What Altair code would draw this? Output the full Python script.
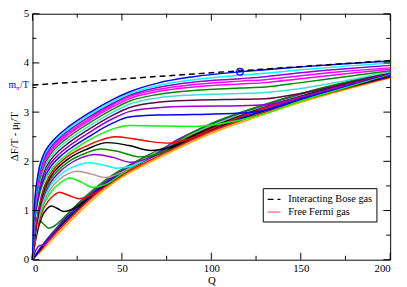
import altair as alt
import pandas as pd

# ---------------- data ----------------
# lower bundle of (almost free-fermion-like) curves
QB = [0, 5, 10, 20, 30, 40, 50, 60, 70, 80, 100, 125, 150, 175, 200]
Y_ORANGE = [0, 0.18, 0.37, 0.74, 1.10, 1.42, 1.68, 1.88, 2.06, 2.24, 2.57, 2.90, 3.20, 3.46, 3.70]
Y_RED_B = [0, 0.21, 0.42, 0.80, 1.16, 1.47, 1.72, 1.92, 2.10, 2.28, 2.61, 2.94, 3.23, 3.48, 3.71]
Y_BLACK_B = [0, 0.24, 0.46, 0.85, 1.20, 1.51, 1.76, 1.96, 2.14, 2.31, 2.64, 2.97, 3.25, 3.50, 3.73]
Y_BLUE_B = [0, 0.27, 0.50, 0.89, 1.24, 1.54, 1.79, 2.00, 2.17, 2.34, 2.67, 2.99, 3.27, 3.52, 3.74]

Q_VIOLET_L = [0, 2, 4, 6, 8, 11, 20, 30, 40, 50, 60, 70, 80, 100, 125, 150, 175, 200]
Y_VIOLET_L = [0, 0.20, 0.29, 0.30, 0.37, 0.52, 0.93, 1.27, 1.57, 1.82, 2.02, 2.20, 2.37, 2.70, 3.02, 3.29, 3.54, 3.75]

Q_GREEN4_L = [0, 2, 4, 6, 9, 12, 16, 20, 30, 40, 50, 60, 70, 80, 100, 125, 150, 175, 200]
Y_GREEN4_L = [0, 0.55, 0.79, 0.73, 0.64, 0.68, 0.80, 0.95, 1.30, 1.60, 1.84, 2.04, 2.22, 2.38, 2.71, 3.04, 3.31, 3.55, 3.76]

# curves with a wiggle
Q_BLACK_1 = [0, 2, 5, 8, 10.5, 14, 17.5, 22, 28, 35, 45, 60, 80, 100, 125, 150, 175, 200]
Y_BLACK_1 = [0, 0.45, 0.85, 1.03, 1.09, 1.04, 0.98, 1.02, 1.16, 1.36, 1.62, 1.98, 2.39, 2.72, 3.05, 3.32, 3.56, 3.77]

Q_RED_1 = [0, 2, 5, 9, 12, 15, 20, 26, 32, 40, 50, 60, 80, 100, 125, 150, 175, 200]
Y_RED_1 = [0, 0.52, 0.94, 1.20, 1.31, 1.37, 1.31, 1.24, 1.30, 1.47, 1.72, 1.98, 2.38, 2.72, 3.05, 3.33, 3.56, 3.77]

Q_GREEN_1 = [0, 2, 5, 10, 15, 21, 27, 34, 40, 50, 60, 80, 100, 125, 150, 175, 200]
Y_GREEN_1 = [0, 0.57, 1.00, 1.36, 1.55, 1.66, 1.58, 1.47, 1.52, 1.75, 1.99, 2.39, 2.73, 3.06, 3.34, 3.57, 3.78]

Q_BROWN_1 = [0, 2, 5, 10, 15, 20, 25, 33, 41, 50, 60, 80, 100, 125, 150, 175, 200]
Y_BROWN_1 = [0, 0.60, 1.05, 1.43, 1.63, 1.75, 1.80, 1.74, 1.67, 1.78, 2.00, 2.40, 2.74, 3.07, 3.35, 3.58, 3.78]

Q_CYAN_1 = [0, 2, 5, 10, 15, 20, 25, 31, 40, 47, 56, 65, 80, 100, 125, 150, 175, 200]
Y_CYAN_1 = [0, 0.62, 1.10, 1.50, 1.71, 1.84, 1.92, 1.97, 1.92, 1.86, 1.91, 2.07, 2.41, 2.75, 3.08, 3.36, 3.59, 3.79]

Q_VIOLET_1 = [0, 2, 5, 10, 15, 20, 27, 35, 45, 55, 65, 80, 100, 125, 150, 175, 200]
Y_VIOLET_1 = [0, 0.64, 1.15, 1.56, 1.78, 1.93, 2.07, 2.14, 2.08, 1.98, 2.07, 2.42, 2.76, 3.09, 3.37, 3.60, 3.79]

Q_GREEN4_2 = [0, 2, 5, 10, 15, 20, 30, 38, 48, 60, 72, 85, 100, 125, 150, 175, 200]
Y_GREEN4_2 = [0, 0.66, 1.20, 1.62, 1.84, 1.99, 2.17, 2.25, 2.20, 2.09, 2.18, 2.50, 2.77, 3.10, 3.38, 3.61, 3.80]

Q_BLACK_2 = [0, 2, 5, 10, 15, 20, 30, 42, 54, 66, 78, 90, 100, 125, 150, 175, 200]
Y_BLACK_2 = [0, 0.68, 1.25, 1.68, 1.90, 2.05, 2.24, 2.38, 2.32, 2.22, 2.30, 2.52, 2.68, 3.04, 3.32, 3.56, 3.77]

Q_RED_2 = [0, 2, 5, 10, 15, 20, 30, 38, 46, 56, 66, 76, 88, 100, 125, 150, 175, 200]
Y_RED_2 = [0, 0.70, 1.30, 1.74, 1.96, 2.11, 2.31, 2.43, 2.50, 2.46, 2.40, 2.37, 2.46, 2.66, 3.03, 3.31, 3.55, 3.77]

# upper curves
QU = [0, 1, 3, 6, 10, 15, 20, 31, 45, 54, 70, 90, 116, 130, 150, 175, 200]
Y_GREEN_2 = [0, 0.64, 1.16, 1.54, 1.81, 2.01, 2.16, 2.42, 2.66, 2.73, 2.72, 2.71, 2.84, 2.97, 3.23, 3.50, 3.78]
Y_BLUE_2 = [0, 0.68, 1.22, 1.61, 1.88, 2.08, 2.23, 2.49, 2.78, 2.90, 2.94, 2.95, 2.98, 3.04, 3.27, 3.53, 3.79]
Y_VIOLET_2 = [0, 0.72, 1.28, 1.68, 1.95, 2.15, 2.30, 2.57, 2.87, 3.01, 3.09, 3.12, 3.13, 3.15, 3.31, 3.55, 3.80]
Y_MAROON = [0, 0.76, 1.34, 1.75, 2.02, 2.22, 2.37, 2.64, 2.94, 3.09, 3.20, 3.24, 3.26, 3.27, 3.38, 3.58, 3.81]
Y_TURQUOISE = [0, 0.80, 1.40, 1.81, 2.08, 2.28, 2.43, 2.70, 3.00, 3.16, 3.29, 3.35, 3.38, 3.40, 3.48, 3.64, 3.82]
Y_GREEN4_U = [0, 0.84, 1.46, 1.87, 2.14, 2.34, 2.49, 2.76, 3.06, 3.22, 3.36, 3.44, 3.49, 3.51, 3.60, 3.72, 3.84]
Y_MAGENTA_2 = [0, 0.88, 1.51, 1.92, 2.19, 2.39, 2.54, 2.81, 3.11, 3.27, 3.42, 3.51, 3.57, 3.60, 3.68, 3.78, 3.87]
Y_MAGENTA_1 = [0, 0.92, 1.56, 1.97, 2.24, 2.43, 2.58, 2.85, 3.15, 3.31, 3.46, 3.56, 3.63, 3.66, 3.74, 3.83, 3.90]
Y_VIOLET_U = [0, 0.96, 1.61, 2.02, 2.28, 2.47, 2.62, 2.89, 3.18, 3.34, 3.50, 3.61, 3.68, 3.72, 3.80, 3.88, 3.95]
Y_CYAN_U = [0, 1.00, 1.66, 2.07, 2.32, 2.51, 2.66, 2.93, 3.22, 3.37, 3.54, 3.66, 3.75, 3.79, 3.86, 3.935, 4.00]
Y_BLUE_U = [0, 1.05, 1.72, 2.12, 2.36, 2.55, 2.70, 2.97, 3.26, 3.41, 3.59, 3.72, 3.82, 3.86, 3.92, 3.985, 4.04]

# interacting Bose gas (dashed) and the marked point
Q_BOSE = [0, 200]
Y_BOSE = [3.55, 4.05]
Q_POINT = [116]
Y_POINT = [3.82]

LEGEND_LABELS = ["Interacting Bose gas", "Free Fermi gas"]
X_MAJOR = [0, 50, 100, 150, 200]
X_MINOR = [25, 75, 125, 175]
Y_MAJOR = [0, 1, 2, 3, 4, 5]
Y_MINOR = [0.5, 1.5, 2.5, 3.5, 4.5]

# ---------------- build table ----------------
CURVES = [
    ("#ffa500", QB, Y_ORANGE), ("#ff0000", QB, Y_RED_B), ("#000000", QB, Y_BLACK_B),
    ("#0000ff", QB, Y_BLUE_B), ("#9400d3", Q_VIOLET_L, Y_VIOLET_L), ("#008b00", Q_GREEN4_L, Y_GREEN4_L),
    ("#000000", Q_BLACK_1, Y_BLACK_1), ("#ff0000", Q_RED_1, Y_RED_1), ("#00ff00", Q_GREEN_1, Y_GREEN_1),
    ("#bc8f8f", Q_BROWN_1, Y_BROWN_1), ("#00ffff", Q_CYAN_1, Y_CYAN_1), ("#9400d3", Q_VIOLET_1, Y_VIOLET_1),
    ("#008b00", Q_GREEN4_2, Y_GREEN4_2), ("#000000", Q_BLACK_2, Y_BLACK_2), ("#ff0000", Q_RED_2, Y_RED_2),
    ("#00ff00", QU, Y_GREEN_2), ("#0000ff", QU, Y_BLUE_2), ("#9400d3", QU, Y_VIOLET_2),
    ("#670748", QU, Y_MAROON), ("#40e0d0", QU, Y_TURQUOISE), ("#008b00", QU, Y_GREEN4_U),
    ("#ff00ff", QU, Y_MAGENTA_2), ("#ff00ff", QU, Y_MAGENTA_1), ("#9400d3", QU, Y_VIOLET_U),
    ("#00ffff", QU, Y_CYAN_U), ("#0000ff", QU, Y_BLUE_U),
]
rows = []
for i, (col, qs, ys) in enumerate(CURVES):
    for q, y in zip(qs, ys):
        rows.append({"cid": f"c{i:02d}", "col": col, "Q": q, "Y": y})
df = pd.DataFrame(rows)

W, H = 365, 251
FONT = "Liberation Serif, Times New Roman, Times, serif"
xs = alt.Scale(domain=[0, 200], nice=False, zero=False)
ys = alt.Scale(domain=[0, 5], nice=False, zero=False)

curves = alt.Chart(df).mark_line(strokeWidth=1.5, interpolate="monotone").encode(
    x=alt.X("Q:Q", scale=xs, axis=alt.Axis(values=X_MAJOR, title="Q", ticks=False, domain=False,
                                           grid=False, labelPadding=3, titlePadding=1, format="d")),
    y=alt.Y("Y:Q", scale=ys, axis=alt.Axis(values=Y_MAJOR, title=None, ticks=False, domain=False,
                                           grid=False, labelPadding=4, format="d")),
    color=alt.Color("col:N", scale=None),
    detail="cid:N",
)

bose_df = pd.DataFrame({"Q": Q_BOSE, "Y": Y_BOSE, "series": [LEGEND_LABELS[0]] * 2})
leg = alt.Legend(title=None, orient="none", legendX=235, legendY=178, strokeColor="black",
                 fillColor="white", padding=4, rowPadding=0, symbolType="stroke", symbolSize=170,
                 symbolStrokeWidth=1.3, labelFont=FONT, labelFontSize=10.5, labelOffset=7,
                 cornerRadius=0)
bose = alt.Chart(bose_df).mark_line(strokeWidth=1.5).encode(
    x=alt.X("Q:Q", scale=xs), y=alt.Y("Y:Q", scale=ys),
    color=alt.Color("series:N", scale=alt.Scale(domain=LEGEND_LABELS, range=["#000000", "#ff6a6a"]), legend=leg),
    strokeDash=alt.StrokeDash("series:N", scale=alt.Scale(domain=LEGEND_LABELS, range=[[6, 4], [1, 0]]), legend=leg),
)

pt = alt.Chart(pd.DataFrame({"Q": Q_POINT, "Y": Y_POINT})).mark_point(
    shape="circle", size=45, filled=False, color="#0000ff", strokeWidth=1.3, opacity=1).encode(
    x=alt.X("Q:Q", scale=xs), y=alt.Y("Y:Q", scale=ys))

def xticks(vals, length, top):
    d = pd.DataFrame({"Q": vals})
    y0, y1 = (0, length) if top else (H, H - length)
    return alt.Chart(d).mark_rule(color="black", strokeWidth=1).encode(
        x=alt.X("Q:Q", scale=xs), y=alt.value(y0), y2=alt.value(y1))

def yticks(vals, length, right):
    d = pd.DataFrame({"Y": vals})
    x0, x1 = (W, W - length) if right else (0, length)
    return alt.Chart(d).mark_rule(color="black", strokeWidth=1).encode(
        y=alt.Y("Y:Q", scale=ys), x=alt.value(x0), x2=alt.value(x1))

ticks = [xticks(X_MAJOR, 7, False), xticks(X_MAJOR, 7, True), xticks(X_MINOR, 4, False), xticks(X_MINOR, 4, True),
         yticks(Y_MAJOR, 7, False), yticks(Y_MAJOR, 7, True), yticks(Y_MINOR, 4, False), yticks(Y_MINOR, 4, True)]

# m_pi/T label (blue) at the left, at the Bose line's start
lab_df = pd.DataFrame({"Y": [3.54]})
def seg(text, xpx, size, dy=0, color="#0000ff"):
    return alt.Chart(lab_df).mark_text(text=text, font=FONT, fontSize=size, align="left",
                                       baseline="middle", dy=dy, color=color).encode(
        x=alt.value(xpx), y=alt.Y("Y:Q", scale=ys))
mlabel = [seg("m", -24.5, 10), seg("π", -16.8, 7, dy=3), seg("/T", -12.8, 10)]

# y axis title: ΔF/T - μ_I/T (rotated)
ymid = H / 2 + 25
def tseg(text, ypx, size, xpx=-17.5):
    return alt.Chart(lab_df).mark_text(text=text, font=FONT, fontSize=size, align="left",
                                       baseline="middle", angle=270, color="black").encode(
        x=alt.value(xpx), y=alt.value(ypx))
ytitle = [tseg("ΔF/T - μ", ymid, 11), tseg("I", ymid - 37.3, 8, xpx=-15), tseg("/T", ymid - 40.2, 11)]

chart = alt.layer(curves, bose, pt, *ticks, *mlabel, *ytitle).resolve_scale(
    color="independent", strokeDash="independent"
).properties(
    width=W, height=H, autosize=alt.AutoSizeParams(type="none"), background="white",
    padding={"left": 25, "top": 3, "right": 9, "bottom": 25},
).configure_view(stroke="black", strokeWidth=1).configure_axis(
    labelFont=FONT, labelFontSize=11, titleFont=FONT, titleFontSize=11, titleFontWeight="normal",
    labelColor="black", titleColor="black"
)

chart.save("out.html", embed_options={"renderer": "svg", "actions": False})
